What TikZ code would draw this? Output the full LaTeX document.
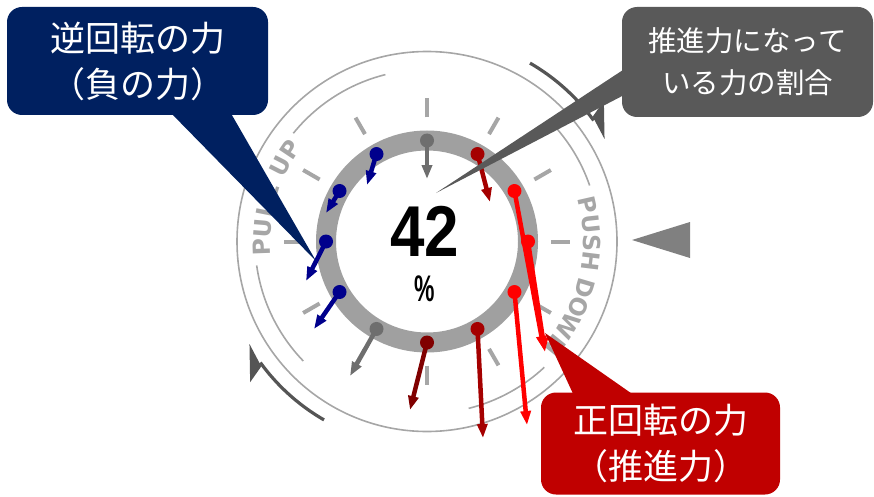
\documentclass[tikz,border=0pt]{standalone}
\usepackage{fontspec}
\setmainfont{Liberation Sans}
\newfontfamily\jpfont{Noto Sans CJK JP}
\newfontfamily\lblfont{DejaVu Sans}
\usetikzlibrary{arrows.meta,calc}
\definecolor{navybox}{HTML}{002060}
\definecolor{greybox}{HTML}{595959}
\definecolor{redbox}{HTML}{C00000}
\definecolor{ringgrey}{HTML}{A0A0A0}
\definecolor{tickgrey}{HTML}{A6A6A6}
\definecolor{thingrey}{HTML}{A6A6A6}
\definecolor{arcdark}{HTML}{555555}
\definecolor{fblue}{HTML}{00008C}
\definecolor{fgrey}{HTML}{6E6E6E}
\definecolor{fdred}{HTML}{A50000}
\definecolor{fddred}{HTML}{800000}
\definecolor{fred}{HTML}{FF0000}
\definecolor{trigrey}{HTML}{808080}
\tikzset{
  thinring/.style={draw=thingrey, line width=1.6pt},
  darkarc/.style={draw=arcdark, line width=3.2pt},
  tickmark/.style={draw=tickgrey, line width=4pt},
  force/.style={line width=4.5pt, -{Triangle[length=14pt,width=10pt]}},
  lbl/.style={text=tickgrey, font=\lblfont\bfseries\fontsize{23.5}{23.5}\selectfont, inner sep=0pt},
  callbox/.style={rounded corners=15pt, inner sep=0pt, text=white, align=center},
}
\begin{document}
\begin{tikzpicture}[x=1pt,y=-1pt]
\useasboundingbox (0,0) rectangle (874,497);
\coordinate (C) at (427,241.5);
\begin{scope}[shift={(C)}, x=1pt, y=1pt]
  % thin rings
  \draw[thinring] (0,0) circle[radius=190];
  \foreach \a/\b in {19/44,104/141,188/224,284/313}
    \draw[thinring] (\a:172) arc[start angle=\a, end angle=\b, radius=172];
  % dark rotation arcs (harpoon heads)
  \draw[darkarc] (60:206) arc[start angle=60, end angle=36, radius=206];
  \fill[arcdark] (30:205) -- (37:207.5) -- (38.5:226) -- cycle;
  \draw[darkarc] (240:206) arc[start angle=240, end angle=216, radius=206];
  \fill[arcdark] (210:205) -- (217:207.5) -- (218.5:226) -- cycle;
  % ticks
  \foreach \a in {0,30,...,330}
    \draw[tickmark] (\a:124) -- (\a:143);
  % grey ring
  \draw[draw=ringgrey, line width=20pt] (0,0) circle[radius=101];
  % labels
  \foreach \l/\a [count=\k] in {P/182,U/175.4,L/168.8,L/162.6,U/152.8,P/146.2}
    \node[lbl, rotate={\a-90}] (pu\k) at (\a:165) {\l};
  \foreach \l/\a [count=\k] in {P/12.8,U/6.2,S/-0.4,H/-7,D/-16.4,O/-23.4,W/-31,N/-39}
    \node[lbl, rotate={\a-90}] (pd\k) at (\a:165) {\l};
  % force arrows
  \foreach \a/\c/\tx/\ty [count=\i] in {
      90/fgrey/427/179, 60/fdred/490/202, 30/fred/544/350, 0/fred/545/352,
      -30/fred/527/425, -60/fdred/483/438, -90/fddred/410/410, -120/fgrey/350/376,
      -150/fblue/314/329, 180/fblue/306/281, 150/fblue/326/213, 120/fblue/367/185}{
    \coordinate (d\i) at (\a:101);
    \coordinate (t\i) at ({\tx-427},{241.5-\ty});
    \draw[force, \c] (d\i) -- (t\i);
  }
  \foreach \a/\c [count=\i] in {
      90/fgrey, 60/fdred, 30/fred, 0/fred, -30/fred, -60/fdred, -90/fddred,
      -120/fgrey, -150/fblue, 180/fblue, 150/fblue, 120/fblue}
    \fill[\c] (\a:101) circle[radius=7];
\end{scope}
% centre value
\node[font=\bfseries\fontsize{72}{72}\selectfont, xscale=0.86, inner sep=0pt] (val) at (424.5,231) {42};
\node[font=\bfseries\fontsize{37}{37}\selectfont, xscale=0.62, inner sep=0pt] (pct) at (425,288.5) {\%};
% right marker triangle
\fill[trigrey] (632,240) -- (690,222) -- (690,258) -- cycle;
% callout: reverse force
\coordinate (ntip) at (316,261);
\fill[navybox] (168,110) -- (ntip) -- (229,110) -- cycle;
\node[callbox, fill=navybox, minimum width=261pt, minimum height=108pt,
      font=\jpfont\fontsize{35}{46}\selectfont] (nbox) at (137.5,61) {逆回転の力\\（負の力）};
% callout: ratio
\coordinate (gtip) at (436,193);
\fill[greybox] (626,68) -- (gtip) -- (626,94) -- cycle;
\node[callbox, fill=greybox, minimum width=251pt, minimum height=110pt,
      font=\jpfont\fontsize{28.5}{42}\selectfont] (gbox) at (747.5,62) {推進力になって\\いる力の割合};
% callout: positive force
\coordinate (rtip) at (545,333);
\fill[redbox] (575,398) -- (rtip) -- (638,398) -- cycle;
\node[callbox, fill=redbox, minimum width=239pt, minimum height=102pt,
      font=\jpfont\fontsize{35}{46}\selectfont] (rbox) at (660.5,443.5) {正回転の力\\（推進力）};
\end{tikzpicture}
\end{document}
